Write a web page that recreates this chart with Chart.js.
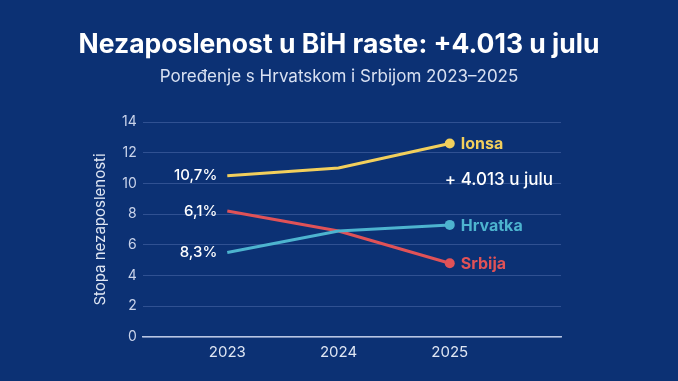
<!DOCTYPE html>
<html><head><meta charset="utf-8">
<script src="https://cdn.jsdelivr.net/npm/chart.js@4/dist/chart.umd.min.js"></script>
<style>
html,body{margin:0;padding:0;background:#0c3174;}
#wrap{width:678px;height:381px;position:relative;}
</style></head>
<body><div id="wrap"><canvas id="c" width="678" height="381"></canvas></div>
<script>
const years = [2023, 2024, 2025];
const seriesNames = ['Ionsa', 'Hrvatka', 'Srbija'];
const bihValues = [10.5, 11.0, 12.6];
const hrValues = [5.5, 6.9, 7.3];
const rsValues = [8.2, 6.9, 4.8];
const startLabels = ['10,7%', '8,3%', '6,1%'];
const yTicks = [0, 2, 4, 6, 8, 10, 12, 14];
const titleText = 'Nezaposlenost u BiH raste: +4.013 u julu';
const subtitleText = 'Poređenje s Hrvatskom i Srbijom 2023–2025';
const noteText = '+ 4.013 u julu';
const colors = ['#f2cf5c', '#4db4cf', '#e05257'];

const FONT = 'Inter, "Noto Sans", sans-serif';

const labelsPlugin = {
  id: 'labelsPlugin',
  afterDatasetsDraw(chart) {
    const ctx = chart.ctx;
    ctx.save();
    ctx.textAlign = 'center';
    ctx.textBaseline = 'middle';
    ctx.fillStyle = '#ffffff';
    ctx.font = '700 26.5px ' + FONT;
    ctx.fillText(titleText, chart.width / 2, 45);
    ctx.fillStyle = '#d9e1f2';
    ctx.font = '400 17px ' + FONT;
    ctx.fillText(subtitleText, chart.width / 2, 77);

    chart.data.datasets.forEach((ds, i) => {
      const meta = chart.getDatasetMeta(i);
      const first = meta.data[0], last = meta.data[meta.data.length - 1];
      ctx.font = '500 15px ' + FONT;
      ctx.fillStyle = '#ffffff';
      ctx.textAlign = 'right';
      ctx.textBaseline = 'middle';
      ctx.fillText(startLabels[i], first.x - 10, first.y);
      ctx.font = '700 16px ' + FONT;
      ctx.fillStyle = colors[i];
      ctx.textAlign = 'left';
      ctx.fillText(seriesNames[i], last.x + 11, last.y + 1);
    });
    const ys = chart.scales.y, xs = chart.scales.x;
    ctx.font = '500 17px ' + FONT;
    ctx.fillStyle = '#ffffff';
    ctx.textAlign = 'left';
    ctx.textBaseline = 'middle';
    ctx.fillText(noteText, xs.getPixelForValue(years[2]) - 5, ys.getPixelForValue(10.2));
    ctx.restore();
  }
};

new Chart(document.getElementById('c'), {
  type: 'line',
  data: {
    datasets: [
      { label: seriesNames[0], data: years.map((y, i) => ({x: y, y: bihValues[i]})), borderColor: colors[0], backgroundColor: colors[0] },
      { label: seriesNames[1], data: years.map((y, i) => ({x: y, y: hrValues[i]})), borderColor: colors[1], backgroundColor: colors[1] },
      { label: seriesNames[2], data: years.map((y, i) => ({x: y, y: rsValues[i]})), borderColor: colors[2], backgroundColor: colors[2] }
    ].map(d => Object.assign(d, {
      borderWidth: 3,
      tension: 0,
      pointRadius: [0, 0, 5],
      pointHoverRadius: [0, 0, 5],
      pointBorderWidth: 0
    }))
  },
  options: {
    responsive: false,
    animation: false,
    devicePixelRatio: 1,
    layout: { padding: { left: 91, right: 117, top: 122, bottom: 14 } },
    plugins: {
      legend: { display: false },
      tooltip: { enabled: false },
      title: { display: false },
      subtitle: { display: false }
    },
    scales: {
      x: {
        type: 'linear',
        min: 2022.24,
        max: 2026,
        afterBuildTicks: (axis) => { axis.ticks = years.map(v => ({value: v})); },
        ticks: {
          color: '#dfe6f3',
          font: { family: FONT, size: 15 },
          callback: v => String(v),
          padding: 6
        },
        grid: { display: false, drawTicks: false },
        border: { display: true, color: '#b9c6e2', width: 1.5 }
      },
      y: {
        min: 0,
        max: 14,
        afterBuildTicks: (axis) => { axis.ticks = yTicks.map(v => ({value: v})); },
        ticks: {
          color: '#c9d3ea',
          font: { family: FONT, size: 14 },
          padding: 6
        },
        grid: { color: 'rgba(120,150,210,0.33)', drawTicks: false, lineWidth: 1 },
        border: { display: false },
        title: {
          display: true,
          text: 'Stopa nezaposlenosti',
          color: '#dfe6f3',
          font: { family: FONT, size: 15 },
          padding: { top: 0, bottom: 7 }
        }
      }
    }
  },
  plugins: [labelsPlugin]
});
</script></body></html>
